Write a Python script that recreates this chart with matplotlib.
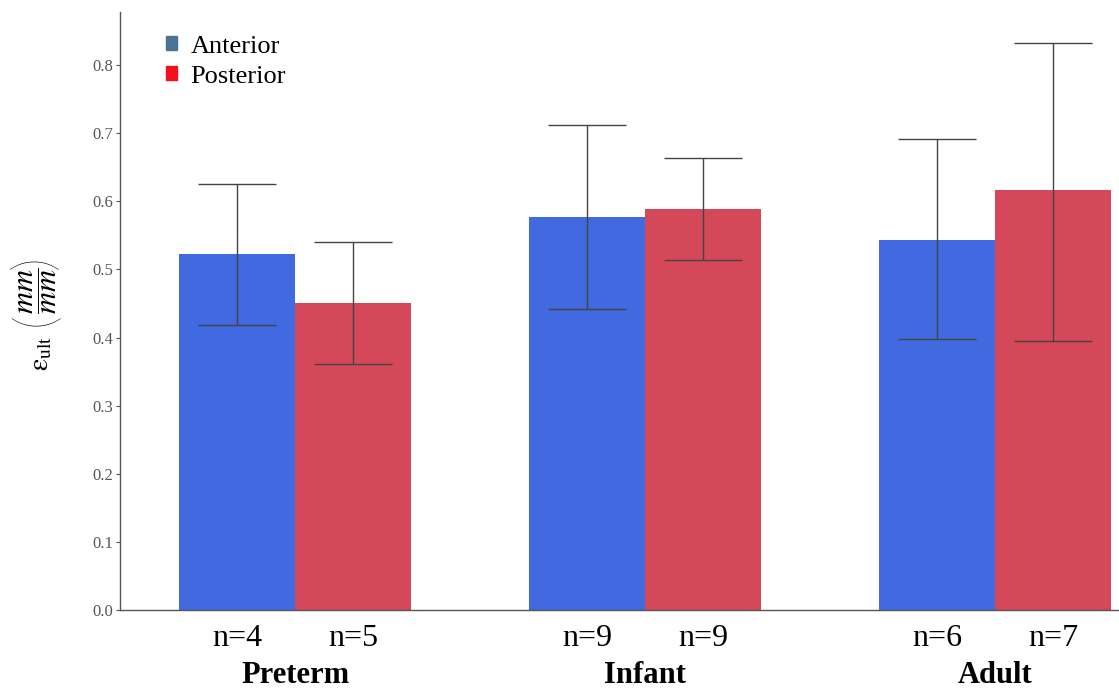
import numpy as np
import matplotlib
matplotlib.use('Agg')
import matplotlib.pyplot as plt
from matplotlib.patches import Patch

# --------------------------- DATA -------------------------------
groups = ['Preterm', 'Infant', 'Adult']
anterior = [0.523, 0.577, 0.543]
posterior = [0.451, 0.589, 0.617]
anterior_low = [0.419, 0.442, 0.398]
anterior_high = [0.626, 0.712, 0.692]
posterior_low = [0.361, 0.514, 0.395]
posterior_high = [0.540, 0.664, 0.833]
n_anterior = [4, 9, 6]
n_posterior = [5, 9, 7]
yticks = [0.0, 0.1, 0.2, 0.3, 0.4, 0.5, 0.6, 0.7, 0.8]

# --------------------------- STYLE -------------------------------
plt.rcParams['font.family'] = ['Liberation Serif', 'DejaVu Serif']
plt.rcParams['mathtext.fontset'] = 'stix'
c_ant = '#4169E0'
c_post = '#D4485A'
c_ant_leg = '#4A7496'
c_post_leg = '#F5101E'
grey = '#555555'

W, H = 1119, 688
fig = plt.figure(figsize=(W / 100, H / 100), dpi=100)
ax = fig.add_axes([120 / W, 78 / H, 999 / W, 598 / H])

x = np.arange(len(groups))
w = 0.331

ant = np.array(anterior)
post = np.array(posterior)
err_ant = [ant - np.array(anterior_low), np.array(anterior_high) - ant]
err_post = [post - np.array(posterior_low), np.array(posterior_high) - post]

ax.bar(x - w / 2, ant, w, color=c_ant, zorder=2)
ax.bar(x + w / 2, post, w, color=c_post, zorder=2)
ax.errorbar(x - w / 2, ant, yerr=err_ant, fmt='none', ecolor='#444444',
            elinewidth=1, capsize=28, capthick=1, zorder=3)
ax.errorbar(x + w / 2, post, yerr=err_post, fmt='none', ecolor='#444444',
            elinewidth=1, capsize=28, capthick=1, zorder=3)

ax.set_xlim(-0.5, 2.354)
ax.set_ylim(0, 0.878)

# x tick labels: sample sizes under each bar
xt = np.concatenate([x - w / 2, x + w / 2])
xl = ['n=%d' % n for n in n_anterior] + ['n=%d' % n for n in n_posterior]
ax.set_xticks(xt)
ax.set_xticklabels(xl, fontsize=23)
ax.tick_params(axis='x', length=0, pad=10)

for i, g in enumerate(groups):
    ax.text(x[i], -0.085, g, transform=ax.get_xaxis_transform(),
            ha='center', va='top', fontsize=22, fontweight='bold')

ax.set_yticks(yticks)
ax.set_yticklabels(['%.1f' % t for t in yticks], fontsize=12, color=grey)
ax.tick_params(axis='y', length=3, width=0.8, color=grey, pad=2)

for s in ['top', 'right']:
    ax.spines[s].set_visible(False)
for s in ['left', 'bottom']:
    ax.spines[s].set_color(grey)
    ax.spines[s].set_linewidth(1)

# y label built from pieces so the brackets can be tall like the original
fig.text(42 / W, 1 - 353 / H, r'$\mathrm{ε_{ult}}$', rotation=90,
         ha='center', va='center', fontsize=20)
fig.text(38 / W, 1 - 291 / H, r'$\dfrac{mm}{mm}$', rotation=90,
         ha='center', va='center', fontsize=22)
fig.text(36 / W, 1 - 319 / H, '(', rotation=90, ha='center', va='center',
         fontsize=40, family=['Lato', 'DejaVu Sans'], fontweight='light')
fig.text(36 / W, 1 - 262 / H, ')', rotation=90, ha='center', va='center',
         fontsize=40, family=['Lato', 'DejaVu Sans'], fontweight='light')

handles = [Patch(color=c_ant_leg, label='Anterior'),
           Patch(color=c_post_leg, label='Posterior')]
ax.legend(handles=handles, loc='upper left', bbox_to_anchor=(0.035, 0.978),
          frameon=False, fontsize=19, handlelength=0.45, handleheight=0.45,
          handletextpad=0.5, labelspacing=0.3, borderaxespad=0)

fig.savefig('out.png', dpi=100)
